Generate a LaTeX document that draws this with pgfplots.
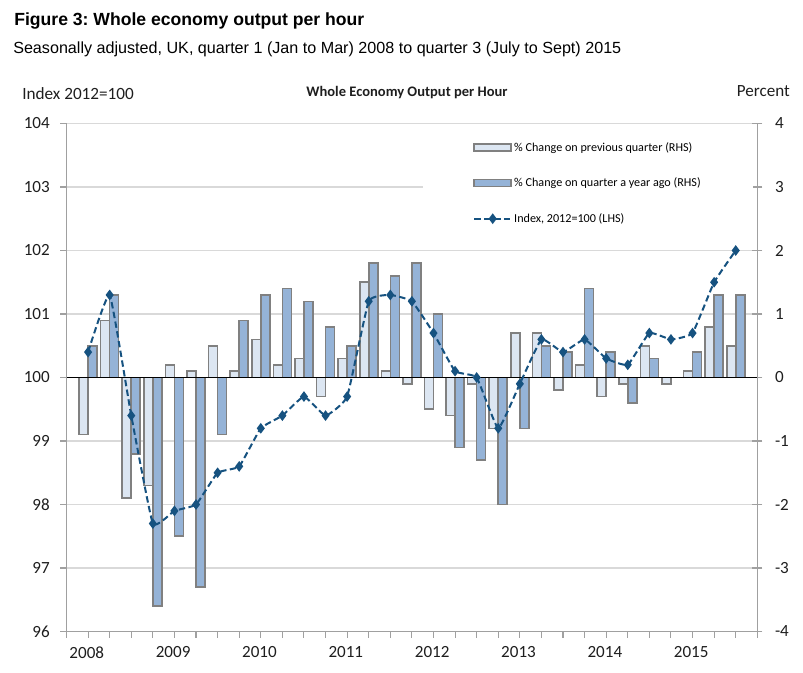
\documentclass[border=0pt]{standalone}
\usepackage{fontspec}
\setmainfont{Carlito}
\newfontfamily\arialfont{Liberation Sans}
\usepackage{pgfplots}
\pgfplotsset{compat=1.18}
\frenchspacing

\definecolor{lightbar}{RGB}{220,230,242}
\definecolor{darkbar}{RGB}{149,179,215}
\definecolor{bargray}{RGB}{128,128,128}
\definecolor{linecol}{RGB}{22,82,128}
\definecolor{gridgray}{RGB}{217,217,217}
\definecolor{axisgray}{RGB}{160,160,160}
\definecolor{txt}{RGB}{30,30,30}

\newcommand{\tickfont}{\fontsize{12.8}{14}\selectfont}
\pgfplotsset{
  lineleg/.style={legend image code/.code={\draw[mark repeat=2,mark phase=2,##1] plot coordinates {(0pt,0pt) (13.875pt,0pt) (27.75pt,0pt)};}},
  lightleg/.style={legend image code/.code={\draw[fill=lightbar,draw=bargray,line width=1.2pt] (0pt,-2.6pt) rectangle (27.75pt,2.6pt);}},
  darkleg/.style={legend image code/.code={\draw[fill=darkbar,draw=bargray,line width=1.2pt] (0pt,-2.6pt) rectangle (27.75pt,2.6pt);}},
}

\begin{document}
\begin{tikzpicture}
\useasboundingbox (0,0) rectangle (602.25pt,504pt);

% ---------- bars on the right axis (percent) ----------
\begin{axis}[
  at={(49.875pt,30.375pt)}, anchor=south west,
  width=518.1pt, height=381pt, scale only axis,
  xmin=0, xmax=32, ymin=-4, ymax=4,
  axis x line=none,
  axis y line*=right,
  axis line style={-, draw=axisgray, line width=0.8pt},
  ytick={-4,-3,...,4},
  yticklabels={-4,-3,-2,-1,0,1,2,3,4},
  ymajorgrids, grid style={gridgray, line width=0.9pt},
  tick align=center, major tick length=7.5pt,
  tick style={axisgray, line width=0.8pt},
  yticklabel style={font=\tickfont, text=txt, anchor=west, xshift=6pt},
  ybar=0pt, bar width=6.75pt,
]
\addplot[fill=lightbar, draw=bargray, line width=1.2pt] coordinates {
(1,-0.9) (2,0.9) (3,-1.9) (4,-1.7)
(5,0.2) (6,0.1) (7,0.5) (8,0.1)
(9,0.6) (10,0.2) (11,0.3) (12,-0.3)
(13,0.3) (14,1.5) (15,0.1) (16,-0.1)
(17,-0.5) (18,-0.6) (19,-0.1) (20,-0.8)
(21,0.7) (22,0.7) (23,-0.2) (24,0.2)
(25,-0.3) (26,-0.1) (27,0.5) (28,-0.1)
(29,0.1) (30,0.8) (31,0.5)};
\addplot[fill=darkbar, draw=bargray, line width=1.2pt] coordinates {
(1,0.5) (2,1.3) (3,-1.2) (4,-3.6)
(5,-2.5) (6,-3.3) (7,-0.9) (8,0.9)
(9,1.3) (10,1.4) (11,1.2) (12,0.8)
(13,0.5) (14,1.8) (15,1.6) (16,1.8)
(17,1.0) (18,-1.1) (19,-1.3) (20,-2.0)
(21,-0.8) (22,0.5) (23,0.4) (24,1.4)
(25,0.4) (26,-0.4) (27,0.3) (28,0.0)
(29,0.4) (30,1.3) (31,1.3)};
\draw[black, line width=0.9pt] (axis cs:0,0) -- (axis cs:32,0);
\end{axis}

% ---------- index line on the left axis ----------
\begin{axis}[
  at={(49.875pt,30.375pt)}, anchor=south west,
  width=518.1pt, height=381pt, scale only axis,
  xmin=0, xmax=32, ymin=96, ymax=104,
  axis y line*=left, axis x line*=bottom,
  axis line style={-, draw=axisgray, line width=0.8pt},
  xtick={1,5,...,29},
  xticklabels={2008,2009,2010,2011,2012,2013,2014,2015},
  minor xtick={0,...,32},
  ytick={96,...,104},
  yticklabels={96,97,98,99,100,101,102,103,104},
  tick align=outside,
  major tick length=4.5pt, minor tick length=4.5pt,
  tick style={axisgray, line width=0.8pt},
  minor tick style={axisgray, line width=0.8pt},
  yticklabel style={font=\tickfont, text=txt, xshift=-4.5pt},
  xticklabel style={font=\tickfont, text=txt, yshift=-3.5pt, xshift=-1pt},
  legend style={at={(0.516,0.99)}, anchor=north west,
    fill=white, draw=none, inner xsep=37.5pt, inner ysep=8pt,
    row sep=14.5pt, font=\fontsize{9.1}{10}\selectfont,
    nodes={inner xsep=1.5pt}},
  legend cell align=left,
]
\addlegendimage{lightleg}
\addlegendentry{\% Change on previous quarter (RHS)}
\addlegendimage{darkleg}
\addlegendentry{\% Change on quarter a year ago (RHS)}
\addplot[linecol, line width=1.5pt, dash pattern=on 4.8pt off 2.6pt,
  smooth, tension=0.22,
  mark=diamond*, mark size=2.8pt, mark options={solid, fill=linecol},
  lineleg]
coordinates {
(1,100.4) (2,101.3) (3,99.4) (4,97.7)
(5,97.9) (6,98.0) (7,98.5) (8,98.6)
(9,99.2) (10,99.4) (11,99.7) (12,99.4)
(13,99.7) (14,101.2) (15,101.3) (16,101.2)
(17,100.7) (18,100.1) (19,100.0) (20,99.2)
(21,99.9) (22,100.6) (23,100.4) (24,100.6)
(25,100.3) (26,100.2) (27,100.7) (28,100.6)
(29,100.7) (30,101.5) (31,102.0)};
\addlegendentry{Index, 2012=100 (LHS)}
\end{axis}

% ---------- titles ----------
\node[anchor=base west, inner sep=0pt, font=\arialfont\bfseries\fontsize{13.2}{15}\selectfont] at (10.5pt,484.5pt) {Figure 3: Whole economy output per hour};
\node[anchor=base west, inner sep=0pt, font=\arialfont\fontsize{12.1}{14}\selectfont] at (9.75pt,463.5pt) {Seasonally adjusted, UK, quarter 1 (Jan to Mar) 2008 to quarter 3 (July to Sept) 2015};
\node[anchor=base west, inner sep=0pt, font=\fontsize{12.9}{15}\selectfont, text=txt] at (16.5pt,429pt) {Index 2012=100};
\node[anchor=base, inner sep=0pt, font=\bfseries\fontsize{10.9}{12}\selectfont, text=txt] at (305.25pt,431.25pt) {Whole Economy Output per Hour};
\node[anchor=base east, inner sep=0pt, font=\fontsize{12.8}{15}\selectfont, text=txt] at (592.5pt,431.25pt) {Percent};
\end{tikzpicture}
\end{document}
